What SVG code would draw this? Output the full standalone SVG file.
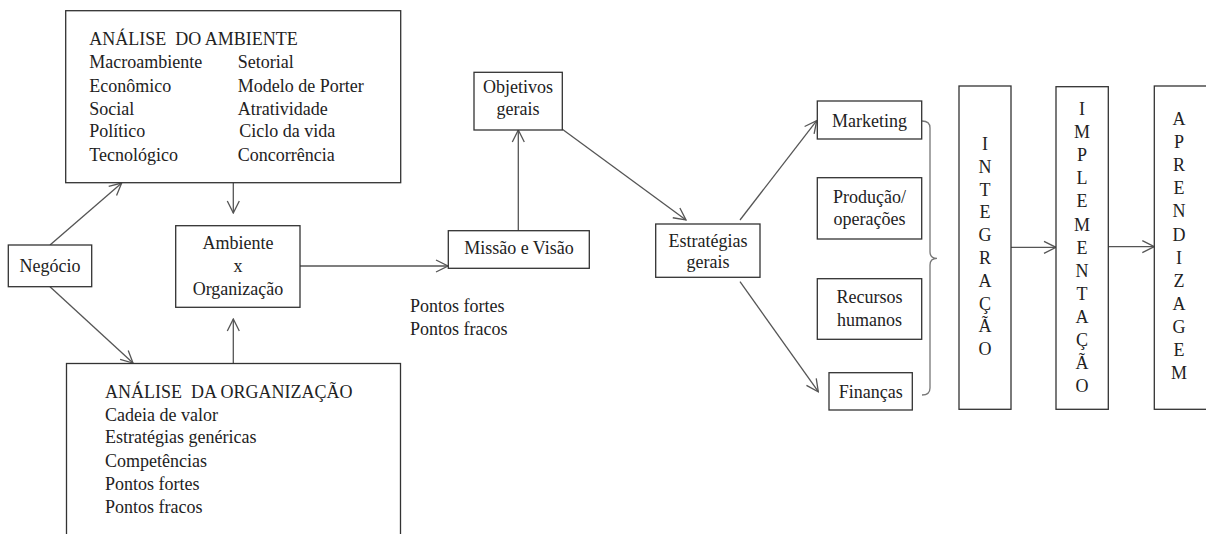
<svg xmlns="http://www.w3.org/2000/svg" width="1206" height="534" viewBox="0 0 1206 534">
  <defs>
    <marker id="open-arrow" viewBox="0 0 14 14" markerWidth="14" markerHeight="14" refX="13" refY="7" orient="auto" markerUnits="userSpaceOnUse">
      <path d="M1,1 L13,7 L1,13" fill="none" stroke="#555" stroke-width="1.3"/>
    </marker>
    <style>
      .box { fill: #fff; stroke: #333; stroke-width: 1.3; }
      .edge { fill: none; stroke: #555; stroke-width: 1.3; marker-end: url(#open-arrow); }
      .brace { fill: none; stroke: #777; stroke-width: 1.3; }
      text { font-family: "Liberation Serif", "Times New Roman", serif; font-size: 18px; fill: #222; }
      .c { text-anchor: middle; }
      .pre { white-space: pre; }
    </style>
  </defs>

  <rect width="1206" height="534" fill="#fff"/>

  <!-- connectors -->
  <g id="connectors">
    <line class="edge" x1="50" y1="245" x2="121.7" y2="183"/>
    <line class="edge" x1="50" y1="286.7" x2="133" y2="363"/>
    <line class="edge" x1="233.3" y1="183" x2="233.3" y2="213"/>
    <line class="edge" x1="233.3" y1="363.5" x2="233.3" y2="319"/>
    <line class="edge" x1="300" y1="266" x2="448" y2="266"/>
    <line class="edge" x1="518.3" y1="230.7" x2="518.3" y2="130"/>
    <line class="edge" x1="562" y1="129" x2="686" y2="220"/>
    <line class="edge" x1="740" y1="220" x2="816.7" y2="120.7"/>
    <line class="edge" x1="740" y1="281.7" x2="818.3" y2="391.7"/>
    <line class="edge" x1="1011" y1="247.3" x2="1056" y2="247.3"/>
    <line class="edge" x1="1108.3" y1="246.7" x2="1154.3" y2="246.7"/>
    <path class="brace" d="M922,121 Q930,121 930,128 V252 Q930,258.3 937,258.3 Q930,258.3 930,265 V388 Q930,395 922,395"/>
  </g>

  <g id="analise-ambiente">
    <rect class="box" x="65.7" y="10.7" width="335" height="172"/>
    <text class="pre" x="89.3" y="45">ANÁLISE  DO AMBIENTE</text>
    <text x="89.3" y="68.3">Macroambiente</text>
    <text x="89.3" y="91.7">Econômico</text>
    <text x="89.3" y="115">Social</text>
    <text x="89.3" y="137.3">Político</text>
    <text x="89.3" y="161">Tecnológico</text>
    <text x="237.7" y="68.3">Setorial</text>
    <text x="237.7" y="91.7">Modelo de Porter</text>
    <text x="237.7" y="115">Atratividade</text>
    <text x="239.3" y="137.3">Ciclo da vida</text>
    <text x="237.7" y="161">Concorrência</text>
  </g>

  <g id="negocio">
    <rect class="box" x="8.3" y="245" width="83.4" height="41.7"/>
    <text class="c" x="50" y="271.7">Negócio</text>
  </g>

  <g id="ambiente-organizacao">
    <rect class="box" x="175.7" y="225.7" width="124.3" height="81.6"/>
    <text class="c" x="238" y="249">Ambiente</text>
    <text class="c" x="238" y="271.7">x</text>
    <text class="c" x="238" y="295">Organização</text>
  </g>

  <g id="analise-organizacao">
    <rect class="box" x="66.5" y="363.5" width="334" height="200"/>
    <text class="pre" x="105" y="398.3">ANÁLISE  DA ORGANIZAÇÃO</text>
    <text x="105" y="420.7">Cadeia de valor</text>
    <text x="105" y="443.3">Estratégias genéricas</text>
    <text x="105" y="466.7">Competências</text>
    <text x="105" y="490">Pontos fortes</text>
    <text x="105" y="513.3">Pontos fracos</text>
  </g>

  <g id="missao-visao">
    <rect class="box" x="448.3" y="230.7" width="141" height="37.6"/>
    <text class="c" x="519" y="254">Missão e Visão</text>
  </g>

  <g id="pontos">
    <text x="410" y="311.7">Pontos fortes</text>
    <text x="410" y="335">Pontos fracos</text>
  </g>

  <g id="objetivos-gerais">
    <rect class="box" x="474" y="72.3" width="88.3" height="57.7"/>
    <text class="c" x="518" y="93.3">Objetivos</text>
    <text class="c" x="518" y="115">gerais</text>
  </g>

  <g id="estrategias-gerais">
    <rect class="box" x="655.7" y="224" width="104.3" height="53.3"/>
    <text class="c" x="708" y="247">Estratégias</text>
    <text class="c" x="708" y="268">gerais</text>
  </g>

  <g id="marketing">
    <rect class="box" x="817.3" y="101" width="104.4" height="38"/>
    <text class="c" x="869.5" y="126.7">Marketing</text>
  </g>

  <g id="producao">
    <rect class="box" x="817.3" y="177.7" width="104.4" height="61.3"/>
    <text class="c" x="869.5" y="203.3">Produção/</text>
    <text class="c" x="869.5" y="225">operações</text>
  </g>

  <g id="recursos-humanos">
    <rect class="box" x="817.3" y="278.7" width="104.4" height="60.6"/>
    <text class="c" x="869.5" y="303.3">Recursos</text>
    <text class="c" x="869.5" y="326">humanos</text>
  </g>

  <g id="financas">
    <rect class="box" x="829" y="372.7" width="83.3" height="37.3"/>
    <text class="c" x="870.7" y="398.3">Finanças</text>
  </g>

  <g id="integracao">
    <rect class="box" x="959" y="86" width="52" height="323.3"/>
    <text class="c" x="985" y="150">I</text>
    <text class="c" x="985" y="172.8">N</text>
    <text class="c" x="985" y="195.6">T</text>
    <text class="c" x="985" y="218.4">E</text>
    <text class="c" x="985" y="241.2">G</text>
    <text class="c" x="985" y="264">R</text>
    <text class="c" x="985" y="286.8">A</text>
    <text class="c" x="985" y="309.6">Ç</text>
    <text class="c" x="985" y="332.4">Ã</text>
    <text class="c" x="985" y="355.2">O</text>
  </g>

  <g id="implementacao">
    <rect class="box" x="1056" y="86.7" width="52.3" height="322.6"/>
    <text class="c" x="1082" y="115">I</text>
    <text class="c" x="1082" y="138.1">M</text>
    <text class="c" x="1082" y="161.2">P</text>
    <text class="c" x="1082" y="184.3">L</text>
    <text class="c" x="1082" y="207.4">E</text>
    <text class="c" x="1082" y="230.5">M</text>
    <text class="c" x="1082" y="253.6">E</text>
    <text class="c" x="1082" y="276.7">N</text>
    <text class="c" x="1082" y="299.8">T</text>
    <text class="c" x="1082" y="322.9">A</text>
    <text class="c" x="1082" y="346">Ç</text>
    <text class="c" x="1082" y="369.1">Ã</text>
    <text class="c" x="1082" y="392.2">O</text>
  </g>

  <g id="aprendizagem">
    <rect class="box" x="1154.3" y="86" width="60" height="323.3"/>
    <text class="c" x="1179" y="125">A</text>
    <text class="c" x="1179" y="148.1">P</text>
    <text class="c" x="1179" y="171.2">R</text>
    <text class="c" x="1179" y="194.3">E</text>
    <text class="c" x="1179" y="217.4">N</text>
    <text class="c" x="1179" y="240.5">D</text>
    <text class="c" x="1179" y="263.6">I</text>
    <text class="c" x="1179" y="286.7">Z</text>
    <text class="c" x="1179" y="309.8">A</text>
    <text class="c" x="1179" y="332.9">G</text>
    <text class="c" x="1179" y="356">E</text>
    <text class="c" x="1179" y="379.1">M</text>
  </g>
</svg>
